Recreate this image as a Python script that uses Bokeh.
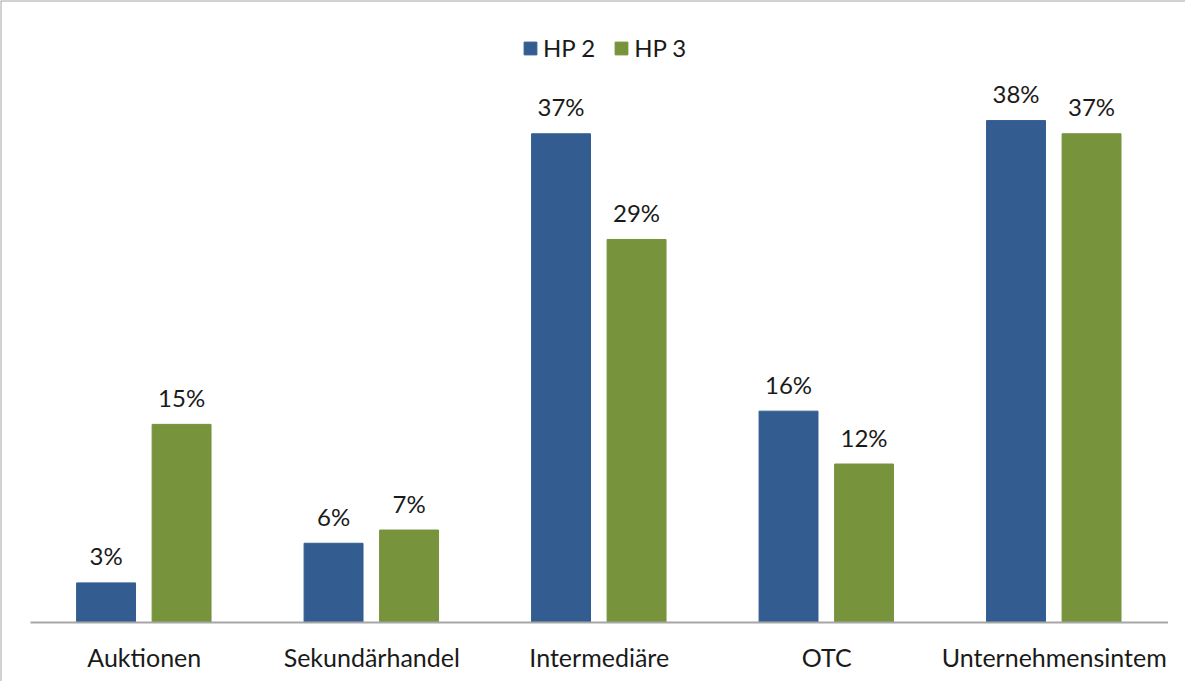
from bokeh.plotting import figure
from bokeh.models import Range1d, Span, ColumnDataSource, Legend, LegendItem
from bokeh.core.properties import value
from bokeh.embed import file_html
from bokeh.resources import INLINE
import numpy as np

categories = ["Auktionen", "Sekundärhandel", "Intermediäre", "OTC", "Unternehmensintem"]
hp2 = [3, 6, 37, 16, 38]
hp3 = [15, 7, 29, 12, 37]
series_names = ["HP 2", "HP 3"]

BLUE = "#335D90"
GREEN = "#77933C"
FONT = "Lato"
TXT = "#1a1a1a"

W, H = 1185, 681
X0, X1 = -0.132, 5.077
Y0, Y1 = -4.466, 47.09
idx = np.arange(len(categories)) + 0.5

p = figure(width=W, height=H, output_backend="svg", toolbar_location=None,
           x_range=Range1d(X0, X1), y_range=Range1d(Y0, Y1),
           min_border_left=0, min_border_right=0, min_border_top=0, min_border_bottom=0)
p.axis.visible = False
p.grid.visible = False
p.outline_line_color = None
p.background_fill_color = "white"
p.border_fill_color = "white"

src = ColumnDataSource(dict(
    x2=idx - 0.168, x3=idx + 0.164, hp2=hp2, hp3=hp3,
    l2=[f"{v}%" for v in hp2], l3=[f"{v}%" for v in hp3],
    cx=idx, cy=[0] * len(categories), cat=categories,
))

r2 = p.vbar(x="x2", top="hp2", bottom=0, width=0.259, source=src,
            fill_color=BLUE, line_color=BLUE)
r3 = p.vbar(x="x3", top="hp3", bottom=0, width=0.259, source=src,
            fill_color=GREEN, line_color=GREEN)

for xs, ys, ls in (("x2", "hp2", "l2"), ("x3", "hp3", "l3")):
    p.text(x=xs, y=ys, text=ls, source=src, text_align="center",
           text_baseline="middle", y_offset=-27,
           text_font=value(FONT), text_font_size="24px", text_color=TXT)

# axis baseline
p.segment(x0=[0], y0=[0], x1=[len(categories)], y1=[0], line_color="#A6A6A6", line_width=2)

# category labels
p.text(x="cx", y="cy", text="cat", source=src, text_align="center",
       text_baseline="middle", y_offset=34,
       text_font=value(FONT), text_font_size="25px", text_color=TXT)

# chart border (top, left)
p.add_layout(Span(location=Y1, dimension="width", line_color="#A5A5A5", line_width=2))
p.add_layout(Span(location=X0, dimension="height", line_color="#A5A5A5", line_width=2))

legend = Legend(items=[LegendItem(label=series_names[0], renderers=[r2]),
                       LegendItem(label=series_names[1], renderers=[r3])],
                orientation="horizontal", location=(522, 619),
                border_line_color=None, background_fill_alpha=0,
                glyph_width=16, glyph_height=16, label_standoff=5, spacing=18,
                label_text_font=FONT, label_text_font_size="24px", label_text_color=TXT,
                margin=0, padding=4)
p.add_layout(legend, "center")

open("out.html", "w").write(file_html(p, INLINE))
